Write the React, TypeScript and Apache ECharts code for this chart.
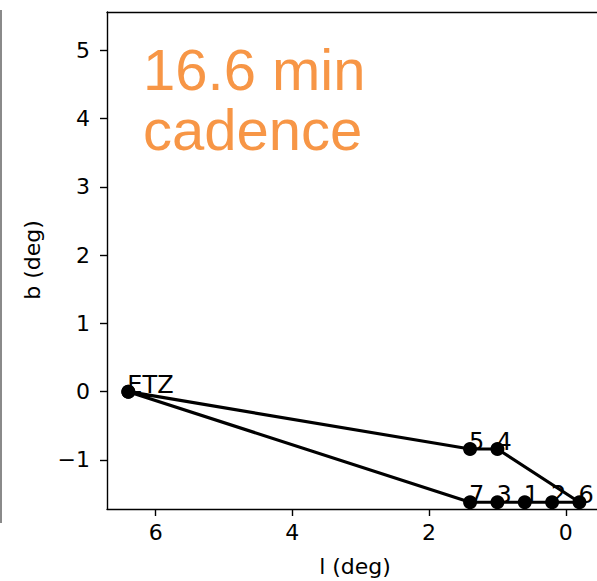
import React, { useEffect, useRef } from "react";
import * as echarts from "echarts";

const pointNames = ["ETZ", "5", "4", "6", "2", "1", "3", "7", "ETZ"];
const lValues = [6.4, 1.4, 1.0, -0.2, 0.2, 0.6, 1.0, 1.4, 6.4];
const bValues = [0, -0.84, -0.84, -1.62, -1.62, -1.62, -1.62, -1.62, 0];
const xTicks = [0, 2, 4, 6];
const yTicks = [-1, 0, 1, 2, 3, 4, 5];
const titleLines = ["16.6 min", "cadence"];

export default function App() {
  const ref = useRef<HTMLDivElement>(null);
  useEffect(() => {
    if (!ref.current) return;
    const chart = echarts.init(ref.current, null, { renderer: "svg" });
    const font = "DejaVu Sans";
    const data = pointNames.map((n, i) => ({
      name: n,
      value: [lValues[i], bValues[i]],
      label: { show: i !== pointNames.length - 1 },
    }));
    const fmt = (v: number) => String(v).replace("-", "\u2212");
    const xMin = -0.457;
    const xMax = 6.712;
    chart.setOption({
      animation: false,
      backgroundColor: "#fff",
      grid: {
        left: 107,
        top: 12,
        width: 490,
        height: 497,
        show: false,
      },
      xAxis: [
        {
          type: "value",
          inverse: true,
          min: xMin,
          max: xMax,
          splitLine: { show: false },
          axisLine: { show: true, onZero: false, lineStyle: { color: "#000", width: 1.4 } },
          axisTick: { show: true, length: 7, lineStyle: { color: "#000", width: 1.4 }, customValues: xTicks },
          axisLabel: {
            customValues: xTicks,
            formatter: fmt,
            color: "#000",
            fontFamily: font,
            fontSize: 22,
            margin: 12,
          },
        },
        {
          type: "value",
          position: "top",
          inverse: true,
          min: xMin,
          max: xMax,
          splitLine: { show: false },
          axisLine: { show: true, onZero: false, lineStyle: { color: "#000", width: 1.4 } },
          axisTick: { show: false },
          axisLabel: { show: false },
        },
      ],
      yAxis: {
        type: "value",
        min: -1.719,
        max: 5.564,
        splitLine: { show: false },
        axisLine: { show: true, onZero: false, lineStyle: { color: "#000", width: 1.4 } },
        axisTick: { show: true, length: 7, lineStyle: { color: "#000", width: 1.4 }, customValues: yTicks },
        axisLabel: {
          customValues: yTicks,
          formatter: fmt,
          color: "#000",
          fontFamily: font,
          fontSize: 22,
          margin: 17,
        },
      },
      series: [
        {
          type: "line",
          xAxisIndex: 0,
          data,
          symbol: "circle",
          symbolSize: 14,
          showAllSymbol: true,
          clip: false,
          itemStyle: { color: "#000" },
          lineStyle: { color: "#000", width: 3.2 },
          label: {
            show: true,
            formatter: (p: any) => p.name,
            position: [7, 7],
            align: "left",
            verticalAlign: "bottom",
            offset: [-1, 5],
            color: "#000",
            fontFamily: font,
            fontSize: 24,
          },
        },
      ],
      graphic: [
        {
          type: "line",
          shape: { x1: 1, y1: 10, x2: 1, y2: 523 },
          style: { stroke: "#8a8a8a", lineWidth: 2 },
        },
        ...titleLines.map((t, i) => ({
          type: "text",
          x: 143,
          y: 69 + i * 60,
          style: {
            text: t,
            fill: "#F79646",
            font: "58px 'Liberation Sans', Arial, sans-serif",
            align: "left",
            verticalAlign: "middle",
          },
        })),
        {
          type: "text",
          x: 355,
          y: 566,
          style: {
            text: "l (deg)",
            fill: "#000",
            font: "22px 'DejaVu Sans'",
            align: "center",
            verticalAlign: "middle",
          },
        },
        {
          type: "text",
          x: 32,
          y: 260,
          rotation: Math.PI / 2,
          style: {
            text: "b (deg)",
            fill: "#000",
            font: "22px 'DejaVu Sans'",
            align: "center",
            verticalAlign: "middle",
          },
        },
      ],
    });
    return () => chart.dispose();
  }, []);
  return <div ref={ref} style={{ width: 597, height: 581, position: "absolute", left: 0, top: 0 }} />;
}
